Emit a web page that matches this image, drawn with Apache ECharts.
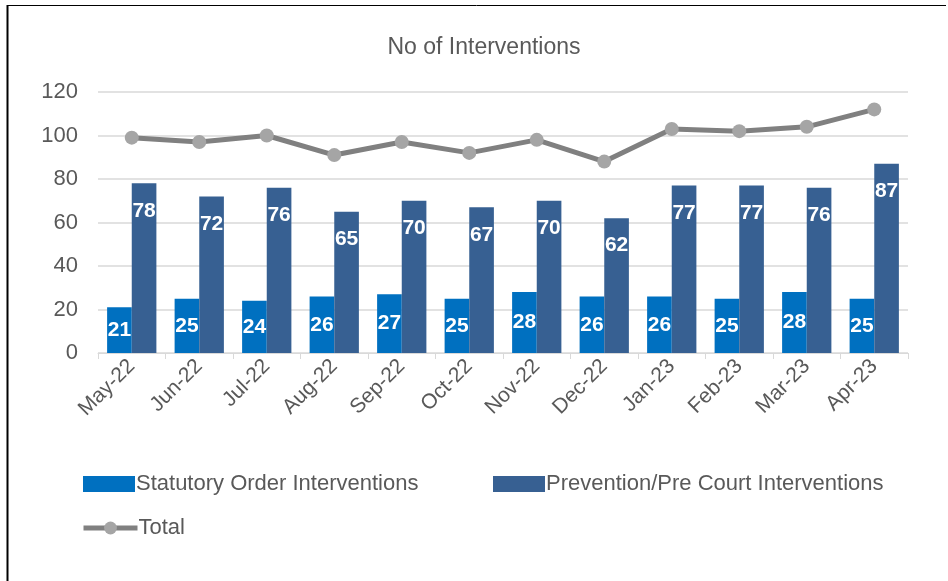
<!DOCTYPE html>
<html lang="en">

<head>
    <meta charset="UTF-8">
    <title>No of Interventions</title>
    <style>
        body { margin: 0; background: #fff; }
    </style>
</head>

<body>

    <div id="chart" style="width: 948px; height: 581px;"></div>

    <script src="https://cdn.jsdelivr.net/npm/echarts@6/dist/echarts.min.js"></script>
    <script>
        const months = ['May-22', 'Jun-22', 'Jul-22', 'Aug-22', 'Sep-22', 'Oct-22',
            'Nov-22', 'Dec-22', 'Jan-23', 'Feb-23', 'Mar-23', 'Apr-23']
        const statutory = [21, 25, 24, 26, 27, 25, 28, 26, 26, 25, 28, 25]
        const prevention = [78, 72, 76, 65, 70, 67, 70, 62, 77, 77, 76, 87]
        const total = [99, 97, 100, 91, 97, 92, 98, 88, 103, 102, 104, 112]

        const font = 'Liberation Sans'
        const grey = '#595959'

        const myChart = echarts.init(document.getElementById('chart'))

        const legendText = { fontSize: 22, color: grey, padding: [0, 0, 0, -4] }

        const option = {
            animation: false,
            textStyle: { fontFamily: font },
            title: {
                text: 'No of Interventions',
                left: 479,
                textAlign: 'center',
                top: 31,
                textStyle: { fontFamily: font, fontSize: 23, fontWeight: 'normal', color: grey }
            },
            // 图例分开放, 位置对齐
            legend: [{
                data: ['Statutory Order Interventions'],
                left: 78,
                top: 468,
                icon: 'rect',
                itemWidth: 52,
                itemHeight: 16,
                textStyle: legendText
            }, {
                data: ['Prevention/Pre Court Interventions'],
                left: 488,
                top: 468,
                icon: 'rect',
                itemWidth: 52,
                itemHeight: 16,
                textStyle: legendText
            }, {
                data: ['Total'],
                left: 76,
                top: 512,
                itemWidth: 54,
                itemHeight: 16,
                lineStyle: { width: 5, color: '#808080' },
                textStyle: legendText
            }],
            grid: {
                left: 98,
                right: 40,
                top: 92,
                bottom: 228
            },
            xAxis: {
                type: 'category',
                data: months,
                axisLine: { lineStyle: { color: '#D9D9D9', width: 1 } },
                axisTick: { show: true, length: 6, lineStyle: { color: '#D9D9D9' } },
                axisLabel: { rotate: 45, fontSize: 21, color: grey, margin: 10 }
            },
            yAxis: {
                type: 'value',
                min: 0,
                max: 120,
                interval: 20,
                axisLabel: { fontSize: 22, color: grey, margin: 20 },
                splitLine: { lineStyle: { color: '#D9D9D9', width: 1.5 } }
            },
            series: [{
                name: 'Statutory Order Interventions',
                type: 'bar',
                data: statutory,
                barGap: 0,
                barCategoryGap: '27%',
                itemStyle: { color: '#0070C0' },
                label: {
                    show: true,
                    position: 'inside',
                    color: '#fff',
                    fontSize: 21,
                    fontWeight: 'bold'
                }
            }, {
                name: 'Prevention/Pre Court Interventions',
                type: 'bar',
                data: prevention,
                itemStyle: { color: '#376092' },
                label: {
                    show: true,
                    position: 'insideTop',
                    distance: 17,
                    color: '#fff',
                    fontSize: 21,
                    fontWeight: 'bold'
                }
            }, {
                name: 'Total',
                type: 'line',
                data: total,
                symbol: 'circle',
                symbolSize: 14,
                lineStyle: { color: '#808080', width: 5 },
                itemStyle: { color: '#A5A5A5' }
            }],
            graphic: [{
                type: 'line',
                shape: { x1: 7.5, y1: 5, x2: 7.5, y2: 581 },
                style: { stroke: '#000', lineWidth: 2 }
            }, {
                type: 'line',
                shape: { x1: 7, y1: 5.5, x2: 946, y2: 5.5 },
                style: { stroke: '#000', lineWidth: 1 }
            }]
        }

        myChart.setOption(option)
    </script>
</body>

</html>
